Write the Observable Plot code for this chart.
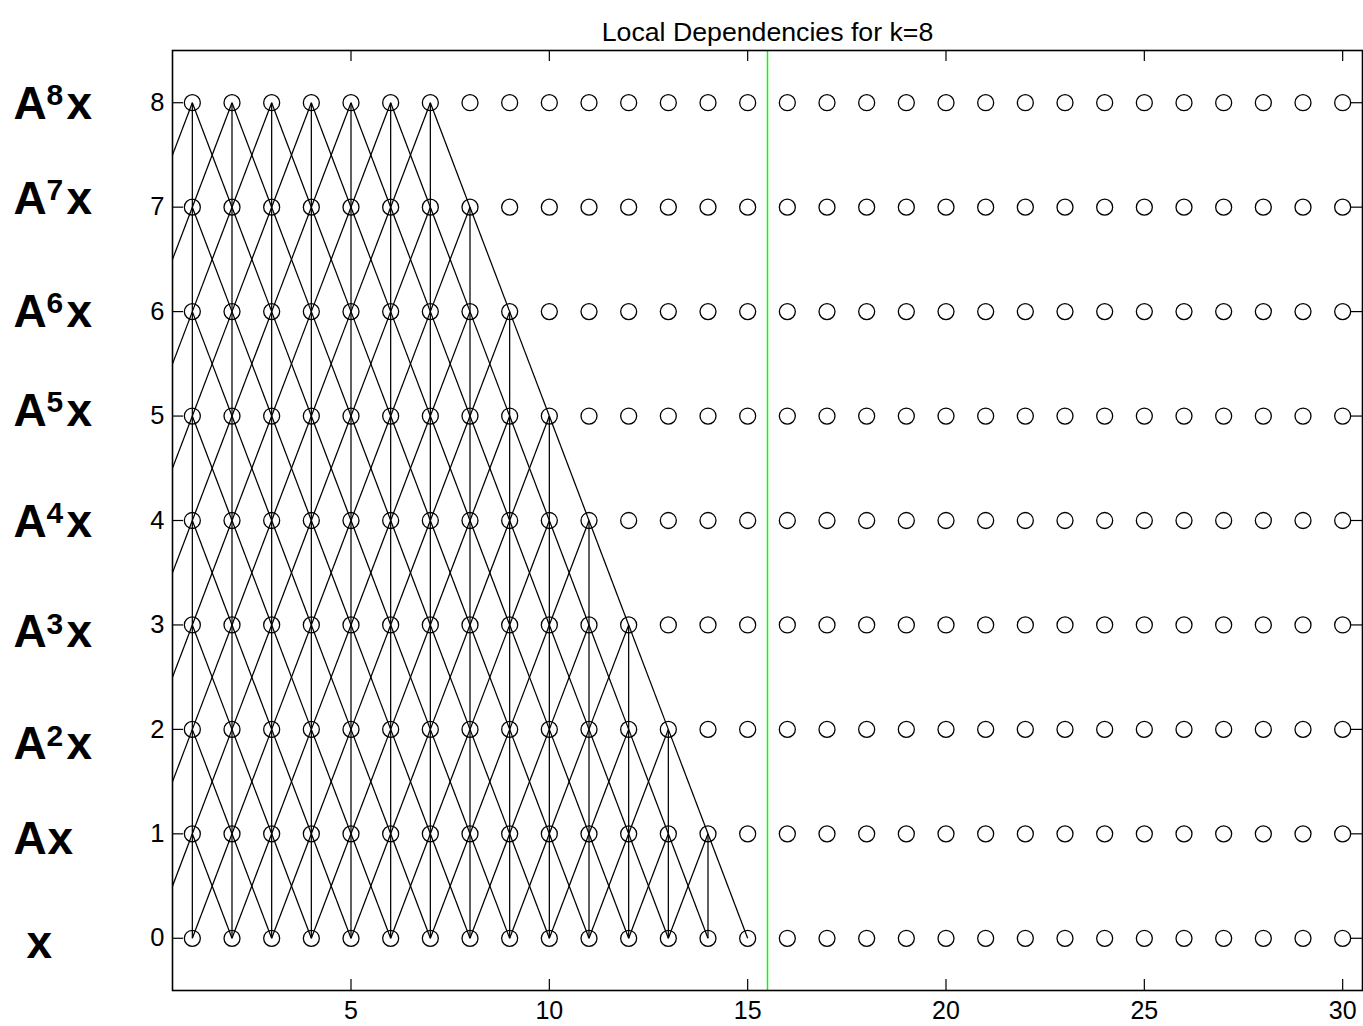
<!DOCTYPE html>
<html>
<head>
<meta charset="utf-8">
<script src="https://cdn.jsdelivr.net/npm/d3@7"></script>
<script src="https://cdn.jsdelivr.net/npm/@observablehq/plot@0.6"></script>
<style>
  html, body { margin: 0; padding: 0; background: #fff; }
</style>
</head>
<body>
<div id="chart"></div>
<script>
// ---- data ----
const steps = [1,2,3,4,5,6,7,8,9,10,11,12,13,14,15,16,17,18,19,20,21,22,23,24,25,26,27,28,29,30];
const levels = [0,1,2,3,4,5,6,7,8];
// rightmost node at each level (1..8) that still depends on the level below
const depLevels = [1,2,3,4,5,6,7,8];
const depLast   = [14,13,12,11,10,9,8,7];
const splitX = 15.5;
const xTicks = [5,10,15,20,25,30];
const yTicks = [0,1,2,3,4,5,6,7,8];
const labelSup = ["", "", "2", "3", "4", "5", "6", "7", "8"];
const labelY = [-0.05, 0.945, 1.855, 2.928, 3.982, 5.045, 5.993, 7.076, 7.985];
const title = "Local Dependencies for k=8";

// ---- derived tables ----
const nodes = [];
for (const y of levels) for (const x of steps) nodes.push({x, y});
const links = [];
depLevels.forEach((j, k) => {
  for (const i of steps.filter(s => s <= depLast[k])) {
    for (const d of [-1, 0, 1]) links.push({x1: i, y1: j, x2: i + d, y2: j - 1});
  }
});
const labels = levels.map((lv, i) => ({level: lv, sup: labelSup[i], ly: labelY[i]}));

const W = 1363, H = 1026, mL = 172, mR = 1, mT = 50, mB = 36;
const fw = W - mL - mR, fh = H - mT - mB, tl = 11;

const chart = Plot.plot({
  width: W, height: H,
  marginLeft: mL, marginRight: mR, marginTop: mT, marginBottom: mB,
  x: {domain: [0.5, 30.5]},
  y: {domain: [-0.5, 8.5]},
  style: {fontFamily: "'Liberation Sans', Arial, Helvetica, sans-serif", fontSize: "25px", background: "#fff", color: "#000"},
  marks: [
    Plot.link(links, {x1: "x1", y1: "y1", x2: "x2", y2: "y2", stroke: "#000", strokeWidth: 1.25, clip: true}),
    Plot.ruleX([splitX], {stroke: "#00ff00", strokeWidth: 1.5}),
    Plot.dot(nodes, {x: "x", y: "y", r: 8, stroke: "#000", fill: "none", strokeWidth: 1.3}),
    // inward ticks
    Plot.tickX(xTicks, {x: d => d, insetTop: fh - tl, stroke: "#000", strokeWidth: 1.2}),
    Plot.tickX(xTicks, {x: d => d, insetBottom: fh - tl, stroke: "#000", strokeWidth: 1.2}),
    Plot.tickY(yTicks, {y: d => d, insetRight: fw - tl, stroke: "#000", strokeWidth: 1.2}),
    Plot.tickY(yTicks, {y: d => d, insetLeft: fw - tl, stroke: "#000", strokeWidth: 1.2}),
    Plot.frame({stroke: "#000", strokeWidth: 1.6}),
    Plot.axisX({ticks: xTicks, tickSize: 0, tickPadding: 11, label: null, fontSize: 25}),
    Plot.axisY({ticks: yTicks, tickSize: 0, tickPadding: 8, label: null, fontSize: 25.5}),
    // row labels
    Plot.text(labels.filter(d => d.level >= 1), {y: "ly", text: () => "A", frameAnchor: "left", textAnchor: "start", dx: -159, fontSize: 46, fontWeight: "bold", fill: "#000"}),
    Plot.text(labels.filter(d => d.level >= 2), {y: "ly", text: "sup", frameAnchor: "left", textAnchor: "start", dx: -126, dy: -8.5, fontSize: 30, fontWeight: "bold", fill: "#000"}),
    Plot.text(labels.filter(d => d.level >= 2), {y: "ly", text: () => "x", frameAnchor: "left", textAnchor: "start", dx: -106, fontSize: 46, fontWeight: "bold", fill: "#000"}),
    Plot.text(labels.filter(d => d.level === 1), {y: "ly", text: () => "x", frameAnchor: "left", textAnchor: "start", dx: -125, fontSize: 46, fontWeight: "bold", fill: "#000"}),
    Plot.text(labels.filter(d => d.level === 0), {y: "ly", text: () => "x", frameAnchor: "left", textAnchor: "start", dx: -146, fontSize: 46, fontWeight: "bold", fill: "#000"}),
    // title
    Plot.text([title], {frameAnchor: "top", dy: -28, fontSize: 26.7, fill: "#000"})
  ]
});
document.getElementById("chart").appendChild(chart);
</script>
</body>
</html>
